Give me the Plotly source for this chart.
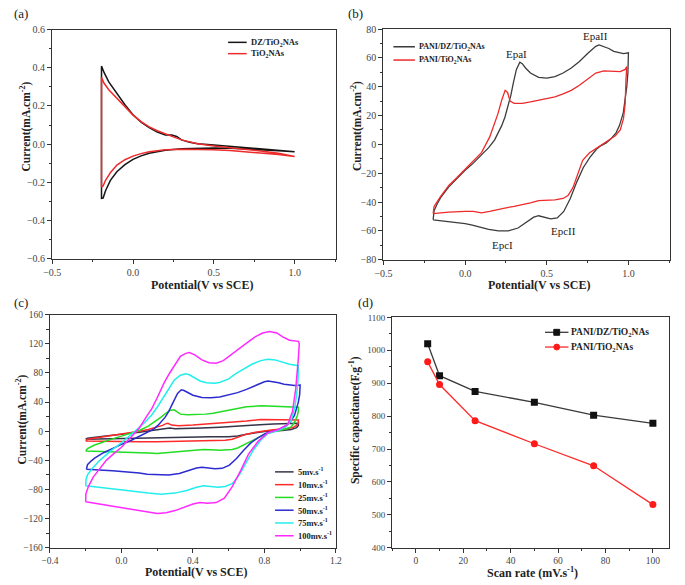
import plotly.graph_objects as go

# ---------------- data ----------------
# (a) CV curves, DZ/TiO2NAs vs TiO2NAs
A_DZ_V = [-0.195, -0.18, -0.15, -0.1, -0.05, 0.0, 0.05, 0.1, 0.15, 0.2, 0.24, 0.27, 0.3, 0.35, 0.4, 0.5, 0.6, 0.7, 0.8, 0.9, 1.0,
          1.0, 0.9, 0.8, 0.7, 0.6, 0.5, 0.4, 0.3, 0.2, 0.1, 0.05, 0.0, -0.05, -0.1, -0.14, -0.17, -0.185, -0.195, -0.195]
A_DZ_I = [0.41, 0.377, 0.326, 0.266, 0.206, 0.154, 0.115, 0.086, 0.063, 0.048, 0.048, 0.04, 0.022, 0.009, 0.002, -0.005, -0.012, -0.018, -0.024, -0.03, -0.037,
          -0.04, -0.035, -0.03, -0.026, -0.022, -0.02, -0.021, -0.025, -0.032, -0.048, -0.062, -0.08, -0.108, -0.145, -0.19, -0.245, -0.283, -0.285, 0.41]
A_TI_V = [-0.195, -0.18, -0.15, -0.1, -0.05, 0.0, 0.05, 0.1, 0.15, 0.2, 0.25, 0.3, 0.35, 0.4, 0.5, 0.6, 0.7, 0.8, 0.9, 1.0,
          1.0, 0.9, 0.8, 0.7, 0.6, 0.5, 0.4, 0.3, 0.2, 0.1, 0.05, 0.0, -0.05, -0.1, -0.14, -0.17, -0.185, -0.195, -0.195]
A_TI_I = [0.35, 0.32, 0.285, 0.24, 0.195, 0.152, 0.118, 0.09, 0.07, 0.052, 0.038, 0.022, 0.01, 0.002, -0.01, -0.018, -0.027, -0.037, -0.048, -0.062,
          -0.065, -0.055, -0.047, -0.04, -0.034, -0.03, -0.027, -0.027, -0.03, -0.04, -0.05, -0.063, -0.082, -0.11, -0.15, -0.19, -0.22, -0.225, 0.35]

# (b) PANI/DZ/TiO2NAs (also the 50 mV/s curve of panel c) and PANI/TiO2NAs
PANI_DZ_V = [-0.196, -0.19, -0.17, -0.15, -0.1, -0.05, 0.0, 0.05, 0.084, 0.144, 0.18, 0.204, 0.224, 0.244, 0.264, 0.28, 0.294, 0.314, 0.335, 0.35,
             0.37, 0.4, 0.45, 0.5, 0.55, 0.6, 0.65, 0.7, 0.75, 0.8, 0.82, 0.85, 0.88, 0.91, 0.94, 0.97, 1.0,
             0.997, 0.99, 0.98, 0.968, 0.945, 0.924, 0.89, 0.864, 0.83, 0.804, 0.764, 0.724, 0.684, 0.644, 0.604, 0.564, 0.524, 0.49,
             0.45, 0.42, 0.384, 0.324, 0.264, 0.204, 0.144, 0.1, 0.044, 0.0, -0.05, -0.1, -0.15, -0.196]
PANI_DZ_I = [-52.3, -46, -41, -37, -29.5, -23.5, -18, -13, -9, -2.3, 3, 8, 13, 19, 27, 34, 42, 52, 57, 56,
             53, 49.5, 46.5, 46, 47, 49.5, 53, 57.5, 63, 68, 69, 68, 66.5, 64.5, 63.5, 63, 63.5,
             50, 40, 30, 21.6, 13, 8, 3.5, 1, -1, -3.4, -9, -16, -26, -37.5, -46.5, -51, -51.6, -50.5,
             -49.5, -50.5, -53.4, -58, -60, -60, -59, -57.5, -56, -55, -54.3, -53.5, -53, -52.3]
PANI_TI_V = [-0.196, -0.19, -0.15, -0.1, -0.05, 0.0, 0.05, 0.1, 0.15, 0.2, 0.225, 0.245, 0.26, 0.275, 0.3, 0.35, 0.4, 0.45, 0.5, 0.55,
             0.6, 0.65, 0.7, 0.75, 0.8, 0.85, 0.9, 0.95, 0.98, 0.99,
             0.985, 0.98, 0.97, 0.95, 0.92, 0.88, 0.84, 0.8, 0.76, 0.72, 0.69, 0.66, 0.63, 0.6, 0.55, 0.5, 0.45, 0.4, 0.35, 0.3,
             0.25, 0.2, 0.15, 0.1, 0.05, 0.0, -0.05, -0.1, -0.15, -0.196]
PANI_TI_I = [-48, -43, -36, -28.5, -23, -17, -11, -5.7, 5, 21, 31, 37.5, 36, 30, 28.5, 28.5, 29.5, 30.5, 31.5, 33,
             35, 37.5, 41, 45, 49.5, 51, 50.5, 50.5, 52, 54,
             45, 28, 18, 10, 6, 3, 0.5, -2.5, -6, -11, -21, -30, -35.5, -37.5, -38.5, -38.5, -39, -40.5, -42, -43,
             -44, -45.5, -46.5, -47.5, -46.5, -46.5, -46.5, -47, -47.5, -48]

# (c) CV of PANI/DZ/TiO2NAs at different scan rates
C5_V = [-0.2, -0.19, -0.1, 0.0, 0.1, 0.2, 0.24, 0.27, 0.3, 0.35, 0.45, 0.55, 0.65, 0.75, 0.85, 0.95, 0.99,
        0.99, 0.98, 0.95, 0.9, 0.8, 0.75, 0.7, 0.65, 0.6, 0.5, 0.4, 0.3, 0.2, 0.1, 0.0, -0.1, -0.2]
C5_I = [-11, -9.5, -7, -4.5, -1.5, 2, 4, 4.5, 3.5, 3.5, 4.5, 5.5, 6.5, 8.5, 10, 10.5, 11,
        8, 5, 2.5, 1, -0.5, -2, -4, -6.5, -7.5, -7.5, -8, -8.5, -9, -9.5, -10, -10.5, -11]
C10_V = [-0.2, -0.19, -0.1, 0.0, 0.1, 0.15, 0.2, 0.23, 0.25, 0.26, 0.28, 0.32, 0.4, 0.5, 0.6, 0.7, 0.78, 0.85, 0.95, 0.99,
         0.99, 0.98, 0.96, 0.92, 0.85, 0.8, 0.75, 0.7, 0.65, 0.62, 0.58, 0.5, 0.4, 0.3, 0.2, 0.1, 0.0, -0.1, -0.2]
C10_I = [-13.5, -11, -7.5, -4, 0, 2.5, 5.5, 8, 10.5, 11, 8.5, 7.5, 8.5, 10, 12, 14, 16, 16, 15.5, 15.5,
         12, 8, 5, 3.5, 2, 0.5, -1.5, -4, -8, -11, -12.5, -13, -13.5, -14, -14.5, -14.5, -14.5, -14, -13.5]
C25_V = [-0.2, -0.19, -0.15, -0.1, -0.05, 0.0, 0.05, 0.1, 0.15, 0.19, 0.22, 0.25, 0.27, 0.295, 0.31, 0.33, 0.37, 0.42, 0.47, 0.513,
         0.58, 0.64, 0.7, 0.784, 0.83, 0.875, 0.95, 0.99,
         0.99, 0.985, 0.97, 0.95, 0.92, 0.88, 0.84, 0.8, 0.748, 0.7, 0.676, 0.65, 0.62, 0.58, 0.549, 0.5, 0.458, 0.41, 0.368, 0.3,
         0.259, 0.2, 0.15, 0.1, 0.0, -0.1, -0.2]
C25_I = [-27, -24, -19, -14.5, -10.5, -6.7, -3, 1, 7, 13.5, 19, 25, 28.5, 29.5, 27, 23.5, 22.5, 22.5, 23.5, 24.7,
         28, 31.5, 33.5, 35, 34.5, 33.7, 33, 33,
         28, 22, 13, 6, 3, 1, -1.5, -4.5, -11, -16, -19, -23, -25, -26, -26, -25.5, -25, -26, -27, -29,
         -30, -30.5, -30, -29.5, -28, -27.5, -27]
C75_V = [-0.2, -0.198, -0.19, -0.16, -0.121, -0.06, 0.0, 0.05, 0.096, 0.13, 0.168, 0.2, 0.24, 0.27, 0.295, 0.33, 0.359, 0.38, 0.404, 0.44,
         0.476, 0.52, 0.549, 0.6, 0.64, 0.69, 0.73, 0.78, 0.82, 0.86, 0.9, 0.94, 0.99,
         0.99, 0.988, 0.98, 0.97, 0.95, 0.92, 0.875, 0.82, 0.78, 0.74, 0.7, 0.66, 0.62, 0.58, 0.54, 0.5, 0.46, 0.42, 0.37, 0.3,
         0.22, 0.15, 0.08, 0.0, -0.1, -0.2]
C75_I = [-75, -66, -60, -50, -40, -27, -16, -6, 4.5, 12, 22, 33, 49, 61, 70, 77, 79, 77.5, 74, 69,
         66.5, 66, 67, 72, 79, 86, 92, 97, 99, 98, 95, 92, 90,
         88, 70, 50, 32, 15, 6, 1, -3, -12, -25, -42, -60, -72, -76, -77, -76, -75, -77, -81, -85,
         -86.5, -85, -83, -80, -77.5, -75]
C100_V = [-0.2, -0.199, -0.185, -0.158, -0.12, -0.085, -0.04, 0.0, 0.05, 0.1, 0.14, 0.17, 0.2, 0.24, 0.27, 0.3, 0.33, 0.36, 0.38, 0.41,
          0.45, 0.49, 0.53, 0.57, 0.61, 0.66, 0.7, 0.75, 0.79, 0.83, 0.87, 0.9, 0.94, 0.99,
          0.995, 0.99, 0.982, 0.975, 0.957, 0.93, 0.875, 0.82, 0.766, 0.712, 0.667, 0.62, 0.576, 0.53, 0.48, 0.44, 0.4, 0.35, 0.3,
          0.25, 0.2, 0.15, 0.1, 0.05, 0.0, -0.1, -0.2]
C100_I = [-97, -86, -76, -63, -51, -40, -30, -22, -9, 4.5, 20, 31, 46, 67, 80, 91, 103, 107, 108, 105,
          98, 94, 93.5, 97, 104, 113, 121, 130, 135, 137, 135, 130, 125, 123.5,
          120, 100, 75, 58, 27, 9, 2, -2, -13.5, -31, -54, -76, -92, -98, -99, -98, -100, -105, -109,
          -112, -113, -111, -109, -106, -104, -100, -97]

# (d) specific capacitance vs scan rate
SCAN_RATE = [5, 10, 25, 50, 75, 100]
CAP_PANI_DZ = [1020, 923, 875, 842, 803, 778]
CAP_PANI_TI = [965, 896, 786, 716, 649, 531]

# ---------------- figure ----------------
W, H = 685, 585
def px(x):
    return x / W
def py(y):
    return 1 - y / H

SERIF = "Liberation Serif"
AX = "#333333"

def xax(dom, rng, dtick, minor, fmt, anchor, size=10):
    return dict(domain=dom, range=rng, dtick=dtick, tick0=0, tickformat=fmt, anchor=anchor,
                showline=True, linecolor=AX, linewidth=1, mirror=True,
                ticks="outside", ticklen=4, tickwidth=1, tickcolor=AX,
                minor=dict(dtick=minor, tick0=0, ticks="outside", ticklen=2.5, tickwidth=1, tickcolor=AX),
                showgrid=False, zeroline=False,
                tickfont=dict(family=SERIF, size=size, color="#444444"))

fig = go.Figure()

RED = "#ee2a2a"
# (a)
fig.add_trace(go.Scatter(x=A_DZ_V, y=A_DZ_I, mode="lines", name="DZ/TiO2NAs", line=dict(color="#151515", width=1.5), xaxis="x", yaxis="y"))
fig.add_trace(go.Scatter(x=A_TI_V, y=A_TI_I, mode="lines", name="TiO2NAs", line=dict(color=RED, width=1.5), xaxis="x", yaxis="y"))
# (b)
fig.add_trace(go.Scatter(x=PANI_DZ_V, y=PANI_DZ_I, mode="lines", name="PANI/DZ/TiO2NAs", line=dict(color="#3c3c3c", width=1.3), xaxis="x2", yaxis="y2"))
fig.add_trace(go.Scatter(x=PANI_TI_V, y=PANI_TI_I, mode="lines", name="PANI/TiO2NAs", line=dict(color=RED, width=1.3), xaxis="x2", yaxis="y2"))
# (c)
C_SERIES = [
    ("5mv.s<sup>-1</sup>", C5_V, C5_I, "#34344a"),
    ("10mv.s<sup>-1</sup>", C10_V, C10_I, "#ff2a2a"),
    ("25mv.s<sup>-1</sup>", C25_V, C25_I, "#22dd22"),
    ("50mv.s<sup>-1</sup>", PANI_DZ_V, PANI_DZ_I, "#2b2bd0"),
    ("75mv.s<sup>-1</sup>", C75_V, C75_I, "#22eeee"),
    ("100mv.s<sup>-1</sup>", C100_V, C100_I, "#ff2aff"),
]
for name, vv, ii, col in C_SERIES:
    fig.add_trace(go.Scatter(x=vv, y=ii, mode="lines", name=name, line=dict(color=col, width=1.5), xaxis="x3", yaxis="y3"))
# (d)
fig.add_trace(go.Scatter(x=SCAN_RATE, y=CAP_PANI_DZ, mode="lines+markers", name="PANI/DZ/TiO2NAs",
                         line=dict(color="#3a3a3a", width=1.3), marker=dict(symbol="square", size=7, color="#111111"),
                         xaxis="x4", yaxis="y4"))
fig.add_trace(go.Scatter(x=SCAN_RATE, y=CAP_PANI_TI, mode="lines+markers", name="PANI/TiO2NAs",
                         line=dict(color="#ff2a2a", width=1.3), marker=dict(symbol="circle", size=7, color="#ff1a1a"),
                         xaxis="x4", yaxis="y4"))

layout = dict(
    width=W, height=H, margin=dict(l=0, r=0, t=0, b=0),
    paper_bgcolor="white", plot_bgcolor="white", showlegend=False,
    xaxis=xax([px(44), px(334)], [-0.501, 1.254], 0.5, 0.25, ".1f", "y"),
    yaxis=xax([py(258), py(25)], [-0.6005, 0.6005], 0.2, 0.1, ".1f", "x"),
    xaxis2=xax([px(382.7), px(675.7)], [-0.501, 1.254], 0.5, 0.25, ".1f", "y2"),
    yaxis2=xax([py(259.3), py(24.3)], [-80.1, 80.1], 20, 10, "", "x2"),
    xaxis3=xax([px(41.7), px(334.3)], [-0.401, 1.2005], 0.4, 0.2, ".1f", "y3", 9.5),
    yaxis3=xax([py(552.3), py(315)], [-160.2, 160.2], 40, 20, "", "x3", 9.5),
    xaxis4=xax([px(391.7), px(674.3)], [-10, 106.6], 20, 10, "", "y4", 9.5),
    yaxis4=xax([py(552.3), py(317.7)], [399.5, 1100.5], 100, 50, "", "x4", 9),
)
fig.update_layout(**layout)

ann = []
shapes = []

def text(x, y, s, size=11.5, angle=0, xanchor="center", bold=True, color="#222222"):
    ann.append(dict(x=px(x), y=py(y), xref="paper", yref="paper", text=("<b>%s</b>" % s) if bold else s,
                    showarrow=False, textangle=angle, xanchor=xanchor, yanchor="middle",
                    font=dict(family=SERIF, size=size, color=color)))

# panel labels
text(12, 9, "(a)", 13, bold=False)
text(354, 9, "(b)", 13, bold=False)
text(12, 303, "(c)", 13, bold=False)
text(364, 303, "(d)", 13, bold=False)

# axis titles
text(197, 285, "Potential(V vs SCE)", 12)
text(17, 124, "Current(mA.cm<sup>-2</sup>)", angle=-90)
text(542, 285, "Potential(V vs SCE)", 12)
text(356, 123, "Current(mA.cm<sup>-2</sup>)", angle=-90)
text(191, 577, "Potential(V vs SCE)", 12)
text(13, 422, "Current(mA.cm<sup>-2</sup>)", angle=-90)
text(535, 577, "Scan rate (mV.s<sup>-1</sup>)", 12)
text(354, 422, "Specific capacitance(F.g<sup>-1</sup>)", angle=-90)

# peak labels in (b)
for lbl, v, i in [("EpaI", 0.314, 63), ("EpaII", 0.8, 75), ("EpcI", 0.23, -69.5), ("EpcII", 0.6, -60)]:
    ann.append(dict(x=v, y=i, xref="x2", yref="y2", text=lbl, showarrow=False,
                    font=dict(family=SERIF, size=11, color="#222222")))

# manual legends
def leg_line(x0, x1, y, color, width=1.5):
    shapes.append(dict(type="line", xref="paper", yref="paper", x0=px(x0), x1=px(x1), y0=py(y), y1=py(y),
                       line=dict(color=color, width=width)))

def leg_entry(x0, x1, y, color, label, size=8.5):
    leg_line(x0, x1, y, color)
    text(x1 + 2, y, label, size, xanchor="left")

leg_entry(224, 243, 38, "#151515", "DZ/TiO<sub>2</sub>NAs", 8.5)
leg_entry(224, 243, 49.5, RED, "TiO<sub>2</sub>NAs", 8.5)
leg_entry(393, 415, 42.5, "#3c3c3c", "PANI/DZ/TiO<sub>2</sub>NAs", 8)
leg_entry(393, 415, 56, RED, "PANI/TiO<sub>2</sub>NAs", 8)
for k, (name, vv, ii, col) in enumerate(C_SERIES):
    leg_entry(272, 291, 475 + 13 * k, col, name, 8.5)

# legend (d) with markers
for y, col, mcol, sym, label in [(333, "#3a3a3a", "#111111", "rect", "PANI/DZ/TiO<sub>2</sub>NAs"),
                                  (348, "#ff2a2a", "#ff1a1a", "circle", "PANI/TiO<sub>2</sub>NAs")]:
    leg_line(548, 572, y, col, 1.3)
    shapes.append(dict(type=sym, xref="paper", yref="paper", x0=px(557), x1=px(563), y0=py(y + 3), y1=py(y - 3),
                       fillcolor=mcol, line=dict(color=mcol, width=1)))
    text(573, y, label, 9.5, xanchor="left")

fig.update_layout(annotations=ann, shapes=shapes)
fig.write_html("out.html", config={"displayModeBar": False},
               post_script="document.body.style.margin='0px';")
